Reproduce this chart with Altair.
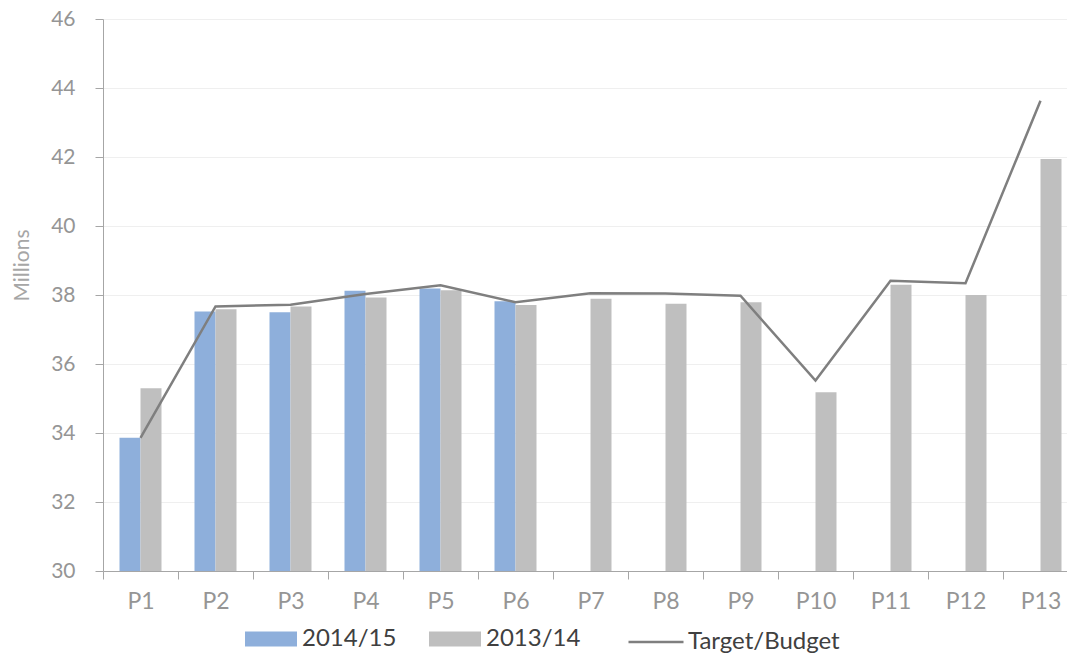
import altair as alt
import pandas as pd

periods = ["P1", "P2", "P3", "P4", "P5", "P6", "P7", "P8", "P9", "P10", "P11", "P12", "P13"]
series_1415 = [33.86, 37.52, 37.50, 38.12, 38.19, 37.82]
series_1314 = [35.30, 37.59, 37.67, 37.93, 38.14, 37.71, 37.89, 37.75, 37.79, 35.18, 38.30, 38.00, 41.94]
target_budget = [33.86, 37.67, 37.72, 38.03, 38.28, 37.79, 38.05, 38.04, 37.98, 35.52, 38.41, 38.34, 43.63]
bar_series = ["2014/15", "2013/14"]
bar_colors = ["#8EAFDB", "#BFBFBF"]
y_ticks = [30, 32, 34, 36, 38, 40, 42, 44, 46]

rows = []
for p, v in zip(periods, series_1415):
    rows.append({"period": p, "series": "2014/15", "value": v})
for p, v in zip(periods, series_1314):
    rows.append({"period": p, "series": "2013/14", "value": v})
bars_df = pd.DataFrame(rows)
line_df = pd.DataFrame({"period": periods, "series": "Target/Budget", "value": target_budget})

FONT = "Lato"
x_scale = alt.Scale(domain=periods, range=[0, 975], paddingInner=0, paddingOuter=0)
y_scale = alt.Scale(domain=[30, 46], zero=False, nice=False)

x_axis = alt.Axis(title=None, labelAngle=0, tickBand="extent", tickSize=8,
                  labelFontSize=23, labelColor="#959595", labelFont=FONT,
                  domainColor="#A6A6A6", tickColor="#A6A6A6", labelPadding=11, grid=False)
y_axis = alt.Axis(values=y_ticks, title="Millions", titleFontSize=21, titleColor="#A6A6A6",
                  titleFontWeight="normal", titleFont=FONT, titleX=-71, titleY=246,
                  labelFontSize=21, labelColor="#959595", labelFont=FONT, tickSize=8,
                  labelPadding=20, gridColor="#EFEFEF", domainColor="#A6A6A6",
                  tickColor="#A6A6A6")

bars = alt.Chart(bars_df).mark_bar().encode(
    x=alt.X("period:N", scale=x_scale, axis=x_axis, sort=periods),
    xOffset=alt.XOffset("series:N", scale=alt.Scale(domain=bar_series, paddingInner=0, paddingOuter=0.786)),
    y=alt.Y("value:Q", scale=y_scale, axis=y_axis),
    y2=alt.datum(30),
    color=alt.Color("series:N", scale=alt.Scale(domain=bar_series, range=bar_colors),
                    legend=alt.Legend(title=None, orient="none", legendX=142, legendY=594,
                                      direction="horizontal",
                                      symbolType="M-1,-0.2885H1V0.2885H-1Z", symbolSize=2704,
                                      symbolStrokeWidth=0, labelFontSize=24, labelColor="#404040",
                                      labelFont=FONT, labelOffset=5, columnPadding=32)),
)

line = alt.Chart(line_df).mark_line(strokeWidth=2.5).encode(
    x=alt.X("period:N", scale=x_scale, sort=periods),
    y=alt.Y("value:Q", scale=y_scale),
    stroke=alt.Stroke("series:N", scale=alt.Scale(domain=["Target/Budget"], range=["#7F7F7F"]),
                      legend=alt.Legend(title=None, orient="none", legendX=524, legendY=594,
                                        symbolType="stroke", symbolSize=3025, symbolStrokeWidth=2.5,
                                        labelFontSize=24, labelColor="#404040", labelFont=FONT,
                                        labelOffset=3)),
)

chart = alt.layer(bars, line).properties(
    width=964, height=552,
    autosize=alt.AutoSizeParams(type="none"),
    padding={"left": 103, "top": 19, "right": 0, "bottom": 85},
).configure_view(stroke=None)

chart.save("out.html", embed_options={"renderer": "svg", "actions": False})
